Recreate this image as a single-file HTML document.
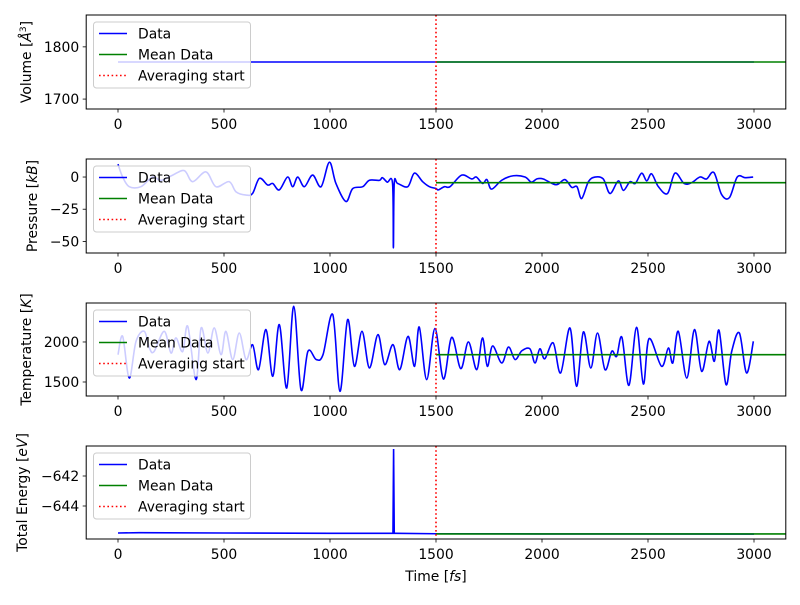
<!DOCTYPE html>
<html><head><meta charset="utf-8"><style>
body{margin:0;background:#fff}
svg text{font-family:"DejaVu Sans","Liberation Sans",sans-serif;font-size:13.9px;fill:#000}
</style></head><body>
<svg id="fig" width="800" height="600" viewBox="0 0 800 600" xmlns="http://www.w3.org/2000/svg"></svg>
<script>
const xTicks=[0,500,1000,1500,2000,2500,3000];
const avgStart=1500;
const volT=[0,3000];
const volV=[1771,1771];
const volMean=1771;
const volTicks=[1700,1800];
const presT=[0,22,53,108,163,203,258,313,352,415,462,524,557,604,635,667,706,730,761,800,824,848,879,918,958,997,1028,1075,1107,1154,1186,1233,1247,1270,1295,1299,1303,1319,1367,1398,1437,1469,1500,1511,1540,1566,1621,1668,1690,1720,1740,1762,1810,1865,1920,1950,1975,2006,2066,2108,2140,2165,2187,2219,2250,2289,2321,2360,2384,2415,2440,2470,2494,2517,2549,2592,2627,2670,2705,2745,2776,2811,2847,2884,2921,2958,2996];
const presV=[10,0,-7.5,-7.5,0,-2.6,1.5,5,-3.6,4,-7.5,-3.6,-11.5,-14,-12.7,-1,-6.2,-5,-10,0,-7.5,0,-7.5,1.5,-7.5,11.5,-5,-19,-9,-7.5,-2.5,-2.6,-0.5,-4,-5,-55,-5,-5,-7.5,3,-3.6,-7.5,-8.9,-10,-7.5,-7.5,1.5,-1.5,0,-5,-2,-9.4,-2.5,1,0,-4,-1.5,-1.5,-6,-2,-8,-7.5,-16.7,-3.6,0,-1.5,-12.8,-3,-10.4,-3.6,-5,3,-3,2.5,-7.5,-12.8,3,-5,-4.5,0,-1.5,3.5,-13.5,-16,0,-0.5,0];
const presMean=-4.4;
const presTicks=[-50,-25,0];
const tempT=[0,22,53,85,124,148,170,218,250,273,305,329,368,392,424,454,486,509,541,572,604,635,663,698,730,761,796,829,863,896,935,967,1013,1047,1083,1115,1151,1186,1226,1258,1297,1329,1368,1399,1421,1456,1495,1535,1574,1617,1653,1692,1719,1742,1767,1810,1842,1873,1905,1943,1967,1990,2013,2053,2088,2132,2163,2195,2230,2262,2297,2329,2352,2377,2410,2446,2478,2505,2564,2596,2617,2643,2683,2719,2753,2788,2813,2835,2868,2895,2931,2965,2997];
const tempV=[1841,2071,1550,2008,2133,1925,1880,2133,1862,2050,1880,2196,1530,2175,1862,2175,1841,2133,1780,2112,1780,1965,1655,2154,1571,2217,1425,2446,1404,1884,1780,1841,2342,1383,2279,1696,2133,1675,2092,1717,1967,1654,2070,1696,2187,1530,2167,1537,2058,1667,2000,1654,2050,1696,1950,1738,1937,1780,1890,1915,1738,1915,1790,1988,1613,2175,1446,2125,1675,2112,1654,1884,1820,2058,1458,2184,1475,2042,1696,1925,1738,2133,1550,2154,1633,2008,1759,2146,1467,1884,2112,1613,2008];
const tempMean=1841;
const tempTicks=[1500,2000];
const enT=[0,100,500,1000,1290,1297,1300,1303,1310,1500,2000,3000];
const enV=[-645.8,-645.78,-645.8,-645.82,-645.82,-645.82,-640.2,-645.82,-645.82,-645.85,-645.86,-645.87];
const enMean=-645.86;
const enTicks=[-644,-642];

const NS='http://www.w3.org/2000/svg';
const svg=document.getElementById('fig');
function mk(tag,attrs,parent){const e=document.createElementNS(NS,tag);for(const k in attrs)e.setAttribute(k,attrs[k]);(parent||svg).appendChild(e);return e;}
const X0=86.2,X1=785.8,TMIN=-150,TMAX=3150;
function xs(t){return X0+(t-TMIN)/(TMAX-TMIN)*(X1-X0);}
function smoothPath(pts){
  let d='M'+pts[0][0].toFixed(2)+','+pts[0][1].toFixed(2);
  for(let i=0;i<pts.length-1;i++){
    const p0=pts[i-1]||pts[i],p1=pts[i],p2=pts[i+1],p3=pts[i+2]||p2;
    const c1=[p1[0]+(p2[0]-p0[0])/6,p1[1]+(p2[1]-p0[1])/6];
    const c2=[p2[0]-(p3[0]-p1[0])/6,p2[1]-(p3[1]-p1[1])/6];
    d+=' C'+c1[0].toFixed(2)+','+c1[1].toFixed(2)+' '+c2[0].toFixed(2)+','+c2[1].toFixed(2)+' '+p2[0].toFixed(2)+','+p2[1].toFixed(2);
  }
  return d;
}
function panel(id,top,bot,ymin,ymax,T,V,mean,yt,label,labelX,smooth){
  const g=mk('g',{});
  
  
  const ys=v=>bot-(v-ymin)/(ymax-ymin)*(bot-top);
  const clip=mk('clipPath',{id:'c'+id},g);
  mk('rect',{x:X0,y:top,width:X1-X0,height:bot-top},clip);
  const pts=T.map((t,i)=>[xs(t),ys(V[i])]);
  const d=smooth?smoothPath(pts):'M'+pts.map(p=>p[0].toFixed(2)+','+p[1].toFixed(2)).join(' L');
  const line=mk('path',{d:d,fill:'none',stroke:'#0000ff','stroke-width':1.6,'clip-path':'url(#c'+id+')'},g);
  
  
  const ml=mk('line',{x1:xs(avgStart),x2:X1,y1:ys(mean),y2:ys(mean),stroke:'#008000','stroke-width':1.6},g);
  
  
  const vl=mk('line',{x1:xs(avgStart),x2:xs(avgStart),y1:top,y2:bot,stroke:'#ff0000','stroke-width':1.6,'stroke-dasharray':'1.6,2.6'},g);
  
  
  const lg=mk('g',{},g);
  
  
  const ly=top+7;
  mk('rect',{x:93.5,y:ly,width:157,height:66,rx:3,fill:'#fff','fill-opacity':0.8,stroke:'#cccccc','stroke-width':1},lg);
  const items=[['Data','#0000ff',''],['Mean Data','#008000',''],['Averaging start','#ff0000','1.6,2.6']];
  items.forEach((it,i)=>{
    const yy=ly+11.5+i*21;
    const a={x1:99,x2:127,y1:yy,y2:yy,stroke:it[1],'stroke-width':1.6};
    if(it[2])a['stroke-dasharray']=it[2];
    mk('line',a,lg);
    const tx=mk('text',{x:138,y:yy+5},lg);tx.textContent=it[0];
  });
  mk('rect',{x:X0,y:top,width:X1-X0,height:bot-top,fill:'none',stroke:'#000','stroke-width':1},g);
  xTicks.forEach(t=>{
    mk('line',{x1:xs(t),x2:xs(t),y1:bot,y2:bot+3.5,stroke:'#000','stroke-width':0.8},g);
    const tx=mk('text',{x:xs(t),y:bot+20,'text-anchor':'middle'},g);tx.textContent=t;
  });
  yt.forEach(v=>{
    mk('line',{x1:X0,x2:X0-3.5,y1:ys(v),y2:ys(v),stroke:'#000','stroke-width':0.8},g);
    const tx=mk('text',{x:X0-7,y:ys(v)+5,'text-anchor':'end'},g);tx.textContent=String(v).replace('-','\u2212');
  });
  const yl=mk('text',{x:0,y:0,'text-anchor':'middle',transform:'translate('+labelX+','+((top+bot)/2)+') rotate(-90)'},g);
  
  
  yl.innerHTML=label;
}
panel('volume',15,109,1681,1861,volT,volV,volMean,volTicks,'Volume [<tspan font-style="italic">Å</tspan><tspan font-size="9" dy="-5">3</tspan><tspan dy="5">]</tspan>',31,false);
panel('pressure',159,253,-59,14,presT,presV,presMean,presTicks,'Pressure [<tspan font-style="italic">kB</tspan>]',37,true);
panel('temperature',303,396,1325,2487,tempT,tempV,tempMean,tempTicks,'Temperature [<tspan font-style="italic">K</tspan>]',31,true);
panel('energy',446,539,-646.2,-640,enT,enV,enMean,enTicks,'Total Energy [<tspan font-style="italic">eV</tspan>]',27,false);
const xl=mk('text',{x:436,y:581,'text-anchor':'middle'});


xl.innerHTML='Time [<tspan font-style="italic">fs</tspan>]';
</script>
</body></html>
